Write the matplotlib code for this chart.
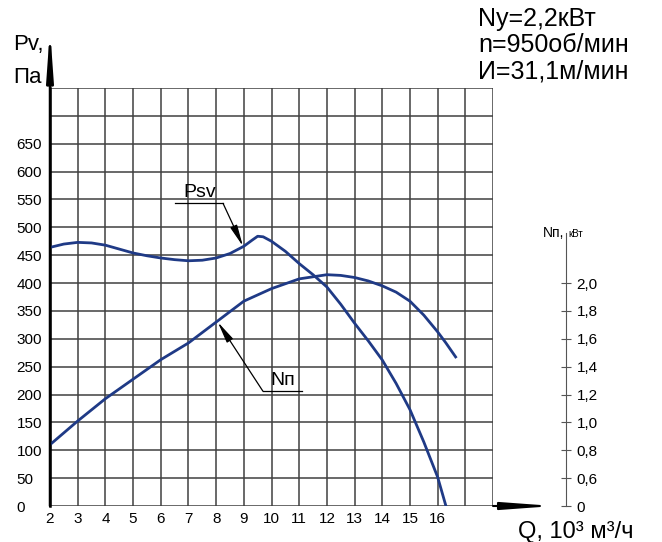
import matplotlib.pyplot as plt
import numpy as np

# Характеристика вентилятора: Psv (Па) и Nп (кВт) от Q (10^3 м3/ч)
q_psv = [2, 2.5, 3, 3.5, 4, 4.5, 5, 5.5, 6, 6.5, 7, 7.5, 8, 8.5, 9, 9.3, 9.5,
         9.7, 10, 10.5, 11, 11.5, 12, 12.5, 13, 13.5, 14, 14.5, 15, 15.5, 16, 16.3]
psv = [464, 470, 473, 472, 468, 461, 454, 449, 445, 442, 440, 441, 445, 453, 466,
       477, 484, 483, 475, 457, 435, 415, 393, 362, 328, 296, 262, 220, 173, 115, 52, 0]

q_n = [2, 3, 4, 5, 6, 7, 8, 9, 10, 11, 12, 12.5, 13, 13.5, 14, 14.5, 15, 15.5,
       16, 16.3, 16.65]
n_kw = [0.84, 1.01, 1.17, 1.31, 1.45, 1.57, 1.72, 1.87, 1.96, 2.03, 2.06, 2.055,
        2.04, 2.015, 1.98, 1.935, 1.87, 1.77, 1.65, 1.57, 1.47]

x_ticks = list(range(2, 17))
p_ticks = list(range(0, 651, 50))
n_ticks = [0, 0.6, 0.8, 1.0, 1.2, 1.4, 1.6, 1.8, 2.0]
n_labels = ['0', '0,6', '0,8', '1,0', '1,2', '1,4', '1,6', '1,8', '2,0']

FONT = ['Liberation Sans', 'DejaVu Sans']
CURVE = '#1f3a86'


def n_to_p(n):
    # шкала мощности с разрывом: 0 -> 0, дальше 0,2 кВт на 50 Па
    n = np.asarray(n, dtype=float)
    return np.where(n > 0, (n - 0.4) * 250, 0)


fig = plt.figure(figsize=(6.62, 5.42), dpi=100)
ax = fig.add_axes([50 / 662, 1 - 506 / 542, 443 / 662, 418 / 542])
ax.set_xlim(2, 18)
ax.set_ylim(0, 750)

# сетка
for xv in range(2, 19):
    ax.axvline(xv, color='#404040', lw=1.1, zorder=1)
for yv in range(0, 751, 50):
    ax.axhline(yv, color='#404040', lw=1.1, zorder=1)

for s in ['top', 'right', 'bottom']:
    ax.spines[s].set_visible(False)
ax.spines['left'].set_linewidth(1.8)

ax.set_xticks(x_ticks)
ax.set_xticklabels([str(v) for v in x_ticks], family=FONT, fontsize=11)
ax.set_yticks(p_ticks)
ax.set_yticklabels([str(v) for v in p_ticks], family=FONT, fontsize=11, ha='left')
ax.tick_params(axis='x', length=0, pad=4)
ax.tick_params(axis='y', length=0, pad=24)

# кривые
ax.plot(q_psv, psv, color=CURVE, lw=2, zorder=3)
ax.plot(q_n, n_to_p(n_kw), color=CURVE, lw=2, zorder=3)

# стрелки осей
ax.annotate('', xy=(2, 856), xytext=(2, 0), annotation_clip=False,
            arrowprops=dict(arrowstyle='-|>,head_length=2.8,head_width=0.2',
                            color='black', lw=1.8, shrinkA=0, shrinkB=0))
ax.annotate('', xy=(20.2, 0), xytext=(18, 0), annotation_clip=False,
            arrowprops=dict(arrowstyle='-|>,head_length=3.0,head_width=0.22',
                            color='black', lw=1.5, shrinkA=0, shrinkB=0))

# выноски
ax.plot([6.5, 8.25], [543, 543], color='black', lw=0.9, zorder=4)
ax.annotate('', xy=(8.97, 466), xytext=(8.25, 543),
            arrowprops=dict(arrowstyle='-|>,head_length=1.3,head_width=0.22',
                            color='black', lw=0.9, shrinkA=0, shrinkB=0))
ax.text(7.42, 547, 'Psv', family=FONT, fontsize=14, ha='center', va='bottom')

ax.plot([9.69, 11.1], [206, 206], color='black', lw=0.9, zorder=4)
ax.annotate('', xy=(8.06, 330), xytext=(9.69, 206),
            arrowprops=dict(arrowstyle='-|>,head_length=1.3,head_width=0.22',
                            color='black', lw=0.9, shrinkA=0, shrinkB=0))
ax.text(10.4, 210, 'Nп', family=FONT, fontsize=14, ha='center', va='bottom')

# ось мощности
ax2 = ax.twinx()
ax2.set_ylim(0, 750)
for s in ['top', 'left', 'bottom']:
    ax2.spines[s].set_visible(False)
ax2.spines['right'].set_position(('axes', (566 - 50) / 443))
ax2.spines['right'].set_bounds(0, 489)
ax2.spines['right'].set_color('#555555')
ax2.set_yticks(n_to_p(n_ticks))
ax2.set_yticklabels(n_labels, family=FONT, fontsize=11)
ax2.tick_params(axis='y', direction='inout', length=7, color='#555555', pad=4)

# подписи
fig.text(13 / 662, 1 - 50 / 542, 'Pv,', family=FONT, fontsize=16)
fig.text(13 / 662, 1 - 83 / 542, 'Па', family=FONT, fontsize=16)
fig.text(518 / 662, 1 - 538 / 542, 'Q, 10³ м³/ч', family=FONT, fontsize=17)
fig.text(543 / 662, 1 - 237 / 542, 'Nп,', family=FONT, fontsize=10)
fig.text(568 / 662, 1 - 237 / 542, 'кВт', family=FONT, fontsize=7)
for i, line in enumerate(['Ny=2,2кВт', 'n=950об/мин', 'И=31,1м/мин']):
    fig.text(478 / 662, 1 - (26 + 26 * i) / 542, line, family=FONT, fontsize=18)

fig.savefig('out.png', dpi=100)
